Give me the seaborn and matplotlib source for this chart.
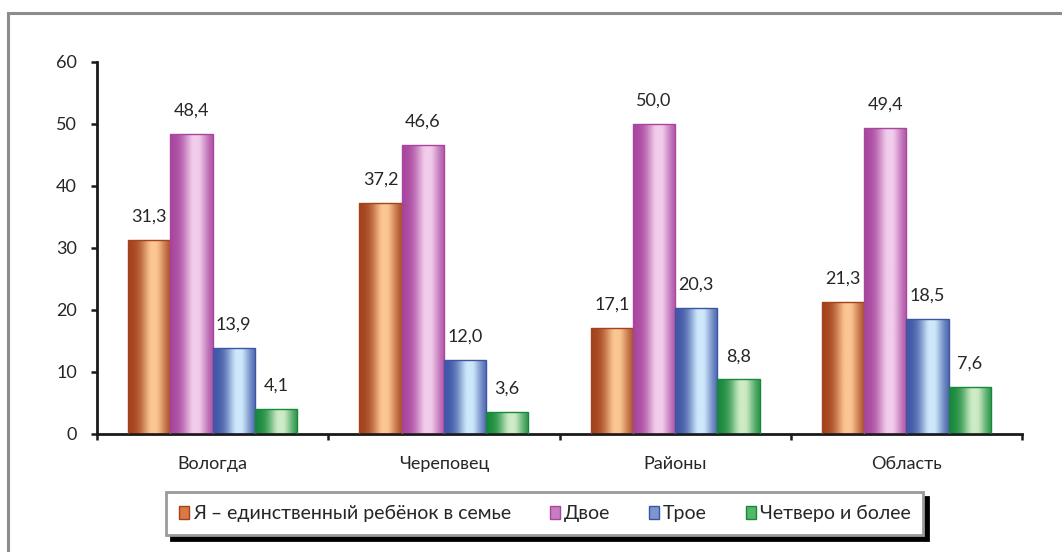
import matplotlib
matplotlib.use("Agg")
import matplotlib.pyplot as plt
import matplotlib.colors as mcolors
from matplotlib.patches import Patch, Rectangle
import numpy as np
import pandas as pd
import seaborn as sns

# %% data
groups = ["Вологда", "Череповец", "Районы", "Область"]
series = ["Я – единственный ребёнок в семье", "Двое", "Трое", "Четверо и более"]
only_child = [31.3, 37.2, 17.1, 21.3]
two_kids = [48.4, 46.6, 50.0, 49.4]
three_kids = [13.9, 12.0, 20.3, 18.5]
four_plus = [4.1, 3.6, 8.8, 7.6]

# dark edge / light highlight per series (cylinder-like shading)
dark = ["#A3421C", "#A8459E", "#3D55A5", "#17893A"]
light = ["#FBC692", "#F2CDEB", "#CDE8FA", "#CDEBC6"]
mid = ["#D87A45", "#C97DC0", "#7E95D0", "#55B56A"]

df = pd.DataFrame({
    "group": groups * 4,
    "series": np.repeat(series, 4),
    "value": only_child + two_kids + three_kids + four_plus,
})

sns.set_style("white")
plt.rcParams["font.family"] = ["Lato", "DejaVu Sans"]
plt.rcParams["text.color"] = "#262626"

fig = plt.figure(figsize=(10.62, 5.52), dpi=100)
ax = fig.add_axes([97 / 1062, 1 - 434 / 552, 925 / 1062, 372 / 552])

sns.barplot(data=df, x="group", y="value", hue="series", palette=dark,
            width=0.73, gap=0, ax=ax, legend=False, edgecolor="none", linewidth=0)

# gradient fill for each bar, clipped to the bar shape
t = np.linspace(0, 1, 200)
prof = np.exp(-((t - 0.6) / 0.28) ** 2)
prof = np.clip(prof * 1.05, 0, 1)
for i, cont in enumerate(ax.containers):
    d = np.array(mcolors.to_rgb(dark[i]))
    l = np.array(mcolors.to_rgb(light[i]))
    img = d[None, :] * (1 - prof[:, None]) + l[None, :] * prof[:, None]
    img = img[None, :, :]
    for p in cont.patches:
        x0, y0 = p.get_x(), p.get_y()
        w, h = p.get_width(), p.get_height()
        im = ax.imshow(img, extent=(x0, x0 + w, y0, y0 + h), aspect="auto",
                       origin="lower", zorder=2, interpolation="bilinear")
        im.set_clip_path(p)
        ax.add_patch(Rectangle((x0, y0), w, h, fill=False, edgecolor=dark[i],
                               linewidth=1.0, zorder=3))
    ax.bar_label(cont, labels=[f"{v:.1f}".replace(".", ",") for v in cont.datavalues],
                 padding=11, fontsize=13, color="#262626")

ax.set_xlim(-0.5, 3.5)
ax.set_ylim(0, 60)
ax.set_yticks(range(0, 61, 10))
ax.set_xlabel("")
ax.set_ylabel("")

for s in ["top", "right"]:
    ax.spines[s].set_visible(False)
for s in ["left", "bottom"]:
    ax.spines[s].set_color("#1a1a1a")
    ax.spines[s].set_linewidth(2)

ax.tick_params(axis="y", direction="out", length=4.5, width=1.8, color="#1a1a1a",
               pad=10, labelsize=13, left=True)
ax.tick_params(axis="x", which="major", length=0, pad=16, labelsize=13)
ax.set_xticks([-0.5, 0.5, 1.5, 2.5, 3.5], minor=True)
ax.tick_params(axis="x", which="minor", direction="out", length=4, width=1.8,
               color="#1a1a1a", bottom=True)

# legend
handles = [Patch(facecolor=mid[i], edgecolor=dark[i], linewidth=1) for i in range(4)]
leg = fig.legend(handles, series, loc="center", ncol=4,
                 bbox_to_anchor=(544.5 / 1062, 1 - 513.5 / 552),
                 bbox_transform=fig.transFigure, fontsize=14, frameon=True,
                 fancybox=False, handlelength=0.52, handleheight=0.62,
                 handletextpad=0.2, columnspacing=2.0, borderpad=0.65,
                 borderaxespad=0,
                 shadow={"ox": 3.5, "oy": -3.5, "color": "black", "alpha": 1})
leg.get_frame().set_edgecolor("#9a9a9a")
leg.get_frame().set_linewidth(2)

# outer chart frame
fig.patches.append(Rectangle((8 / 1062, -0.1), 1.2, 1 - 13 / 552 + 0.1,
                             transform=fig.transFigure, fill=False,
                             edgecolor="#8c8c8c", linewidth=2.2))

fig.savefig("out.png", dpi=100)
